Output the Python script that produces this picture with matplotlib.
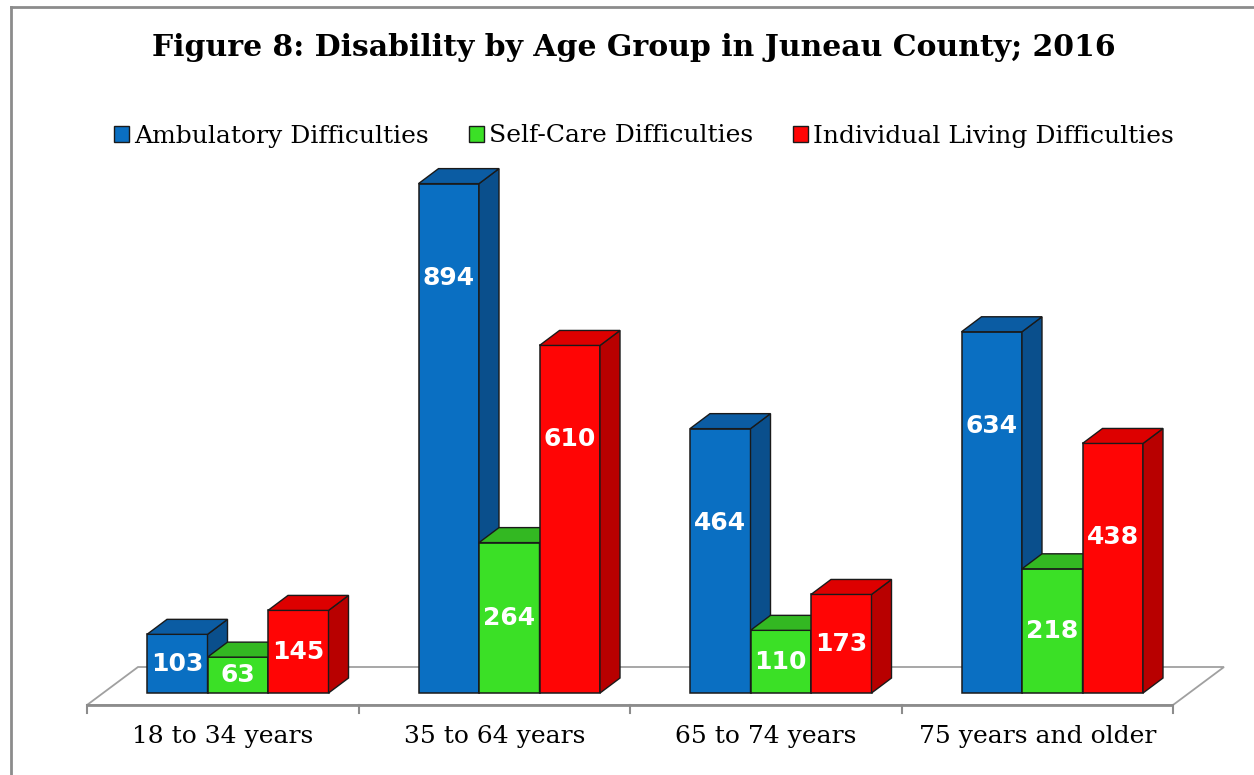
import matplotlib
matplotlib.use("Agg")
import matplotlib.pyplot as plt
from matplotlib.patches import Polygon, Rectangle
from matplotlib.lines import Line2D
import numpy as np

categories = ["18 to 34 years", "35 to 64 years", "65 to 74 years", "75 years and older"]
series_names = ["Ambulatory Difficulties", "Self-Care Difficulties", "Individual Living Difficulties"]
ambulatory = [103, 894, 464, 634]
self_care = [63, 264, 110, 218]
indiv_living = [145, 610, 173, 438]
title = "Figure 8: Disability by Age Group in Juneau County; 2016"

front_colors = ["#0A6FC2", "#3BE026", "#FF0505"]
side_colors = ["#0A4F8C", "#2A9E1C", "#B80000"]
top_colors = ["#0B5CA3", "#33B822", "#DD0000"]

W, H = 1254, 775
fig = plt.figure(figsize=(W / 100, H / 100), dpi=100)
fig.patch.set_facecolor("white")

# axes in pixel layout
ax_left_px, ax_right_px = 87, 1173
ax_bottom_px, ax_top_px = 705, 150
ax = fig.add_axes([ax_left_px / W, 1 - ax_bottom_px / H,
                   (ax_right_px - ax_left_px) / W, (ax_bottom_px - ax_top_px) / H])
ymin, ymax = -21, 953
ax.set_xlim(-0.5, 3.5)
ax.set_ylim(ymin, ymax)
ax.axis("off")

px_x = (ax_right_px - ax_left_px) / 4.0           # px per x unit
px_y = (ax_bottom_px - ax_top_px) / (ymax - ymin)  # px per y unit

def dx(p):
    return p / px_x

def dy(p):
    return p / px_y

# floor
fdx, fdy = dx(51), dy(38)
floor = Polygon([(-0.5, ymin), (3.5, ymin), (3.5 + fdx, ymin + fdy), (-0.5 + fdx, ymin + fdy)],
                closed=True, facecolor="white", edgecolor="#A0A0A0", lw=1.3, zorder=1,
                clip_on=False)
ax.add_patch(floor)
ax.plot([-0.5, 3.5], [ymin, ymin], color="#8C8C8C", lw=2.0, zorder=2,
        solid_capstyle="butt", clip_on=False)
for t in np.arange(-0.5, 3.6, 1.0):
    ax.plot([t, t], [ymin, ymin - dy(8)], color="#8C8C8C", lw=1.5, zorder=2, clip_on=False)

# bars
bw = dx(60.5)
shift = dx(15)
ddx, ddy = dx(20), dy(15)
data = [ambulatory, self_care, indiv_living]
x = np.arange(len(categories))
z = 3
for gi in range(len(categories)):
    for si in range(3):
        v = data[si][gi]
        xl = x[gi] + shift + (si - 1.5) * bw
        xr = xl + bw
        ax.bar(xl, v, width=bw, align="edge", color=front_colors[si],
               edgecolor="#1A1A1A", lw=1.1, zorder=z)
        side = Polygon([(xr, 0), (xr + ddx, ddy), (xr + ddx, v + ddy), (xr, v)],
                       closed=True, facecolor=side_colors[si], edgecolor="#1A1A1A", lw=1.0, zorder=z)
        top = Polygon([(xl, v), (xr, v), (xr + ddx, v + ddy), (xl + ddx, v + ddy)],
                      closed=True, facecolor=top_colors[si], edgecolor="#1A1A1A", lw=1.0, zorder=z)
        ax.add_patch(side)
        ax.add_patch(top)
        ly = max(v / 2.0, v - 165)
        ax.text((xl + xr) / 2, ly, str(v), color="white", fontsize=18, fontweight="bold",
                family="DejaVu Sans", ha="center", va="center", zorder=z + 1)
        z += 2

# category labels
for gi, c in enumerate(categories):
    ax.text(x[gi], ymin - dy(32), c, ha="center", va="center", fontsize=18,
            family="DejaVu Serif", color="black", clip_on=False)

# title
fig.text(634 / W, 1 - 47 / H, title, ha="center", va="center", fontsize=21.5,
         fontweight="bold", family="DejaVu Serif")

# legend
handles = [Rectangle((0, 0), 1, 1, facecolor=front_colors[i], edgecolor="#1A1A1A", lw=1.0)
           for i in range(3)]
fig.legend(handles, series_names, loc="center", bbox_to_anchor=(644 / W, 1 - 136 / H),
           ncol=3, frameon=False, prop={"family": "DejaVu Serif", "size": 18},
           handlelength=0.6, handleheight=0.6, handletextpad=0.2, columnspacing=1.6)

# outer border (top & left)
fig.add_artist(Line2D([11 / W, 11 / W], [0, 1 - 7 / H], transform=fig.transFigure,
                      color="#8C8C8C", lw=2))
fig.add_artist(Line2D([11 / W, 1], [1 - 7 / H, 1 - 7 / H], transform=fig.transFigure,
                      color="#8C8C8C", lw=2))

fig.savefig("out.png", dpi=100, facecolor="white")
